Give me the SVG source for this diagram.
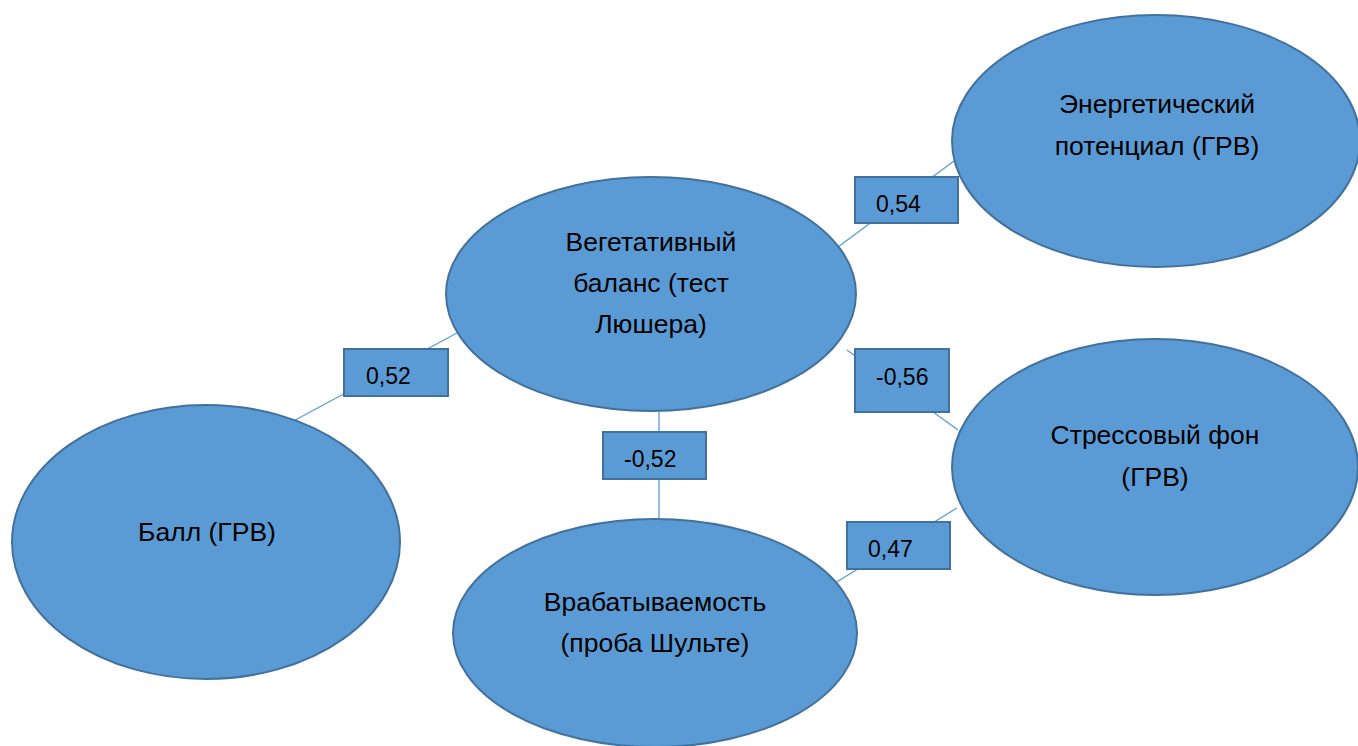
<svg xmlns="http://www.w3.org/2000/svg" width="1358" height="746" viewBox="0 0 1358 746">
<style>
.n{fill:#5B9BD5;stroke:#41719C;stroke-width:2}
.b{fill:#5B9BD5;stroke:#41719C;stroke-width:2}
.c{stroke:#5B9BD5;stroke-width:1.3;fill:none}
text{font-family:"Liberation Sans",Arial,sans-serif;font-size:26.5px;fill:#000}
.m{text-anchor:middle}
.l{font-size:23px}
</style>
<rect width="1358" height="746" fill="#fff"/>
<g id="connectors">
<line class="c" x1="838" y1="247" x2="958" y2="158"/>
<line class="c" x1="286" y1="425" x2="457" y2="333"/>
<line class="c" x1="659" y1="412" x2="659" y2="520"/>
<line class="c" x1="847" y1="350" x2="958" y2="430"/>
<line class="c" x1="835" y1="583" x2="957" y2="508"/>
</g>
<g id="node-veg">
<ellipse class="n" cx="651" cy="294" rx="205" ry="117"/>
<text class="m" x="651" y="251">Вегетативный</text>
<text class="m" x="651" y="292">баланс (тест</text>
<text class="m" x="651" y="333">Люшера)</text>
</g>
<g id="node-energy">
<ellipse class="n" cx="1156" cy="141" rx="204" ry="126"/>
<text class="m" x="1157" y="113">Энергетический</text>
<text class="m" x="1157" y="155">потенциал (ГРВ)</text>
</g>
<g id="node-stress">
<ellipse class="n" cx="1155" cy="467" rx="203" ry="128"/>
<text class="m" x="1155" y="444">Стрессовый фон</text>
<text class="m" x="1155" y="486">(ГРВ)</text>
</g>
<g id="node-ball">
<ellipse class="n" cx="206" cy="542" rx="194" ry="137"/>
<text class="m" x="207" y="541">Балл (ГРВ)</text>
</g>
<g id="node-vrab">
<ellipse class="n" cx="655" cy="633" rx="202" ry="114"/>
<text class="m" x="655" y="611">Врабатываемость</text>
<text class="m" x="655" y="652">(проба Шульте)</text>
</g>
<g id="label-054">
<rect class="b" x="855" y="177" width="103" height="46"/>
<text class="l" x="876" y="212">0,54</text>
</g>
<g id="label-052a">
<rect class="b" x="344" y="349" width="104" height="47"/>
<text class="l" x="366" y="384">0,52</text>
</g>
<g id="label-052b">
<rect class="b" x="603" y="432" width="103" height="47"/>
<text class="l" x="624" y="467">-0,52</text>
</g>
<g id="label-056">
<rect class="b" x="855" y="349" width="94" height="63"/>
<text class="l" x="876" y="385">-0,56</text>
</g>
<g id="label-047">
<rect class="b" x="847" y="522" width="103" height="47"/>
<text class="l" x="868" y="557">0,47</text>
</g>
</svg>
